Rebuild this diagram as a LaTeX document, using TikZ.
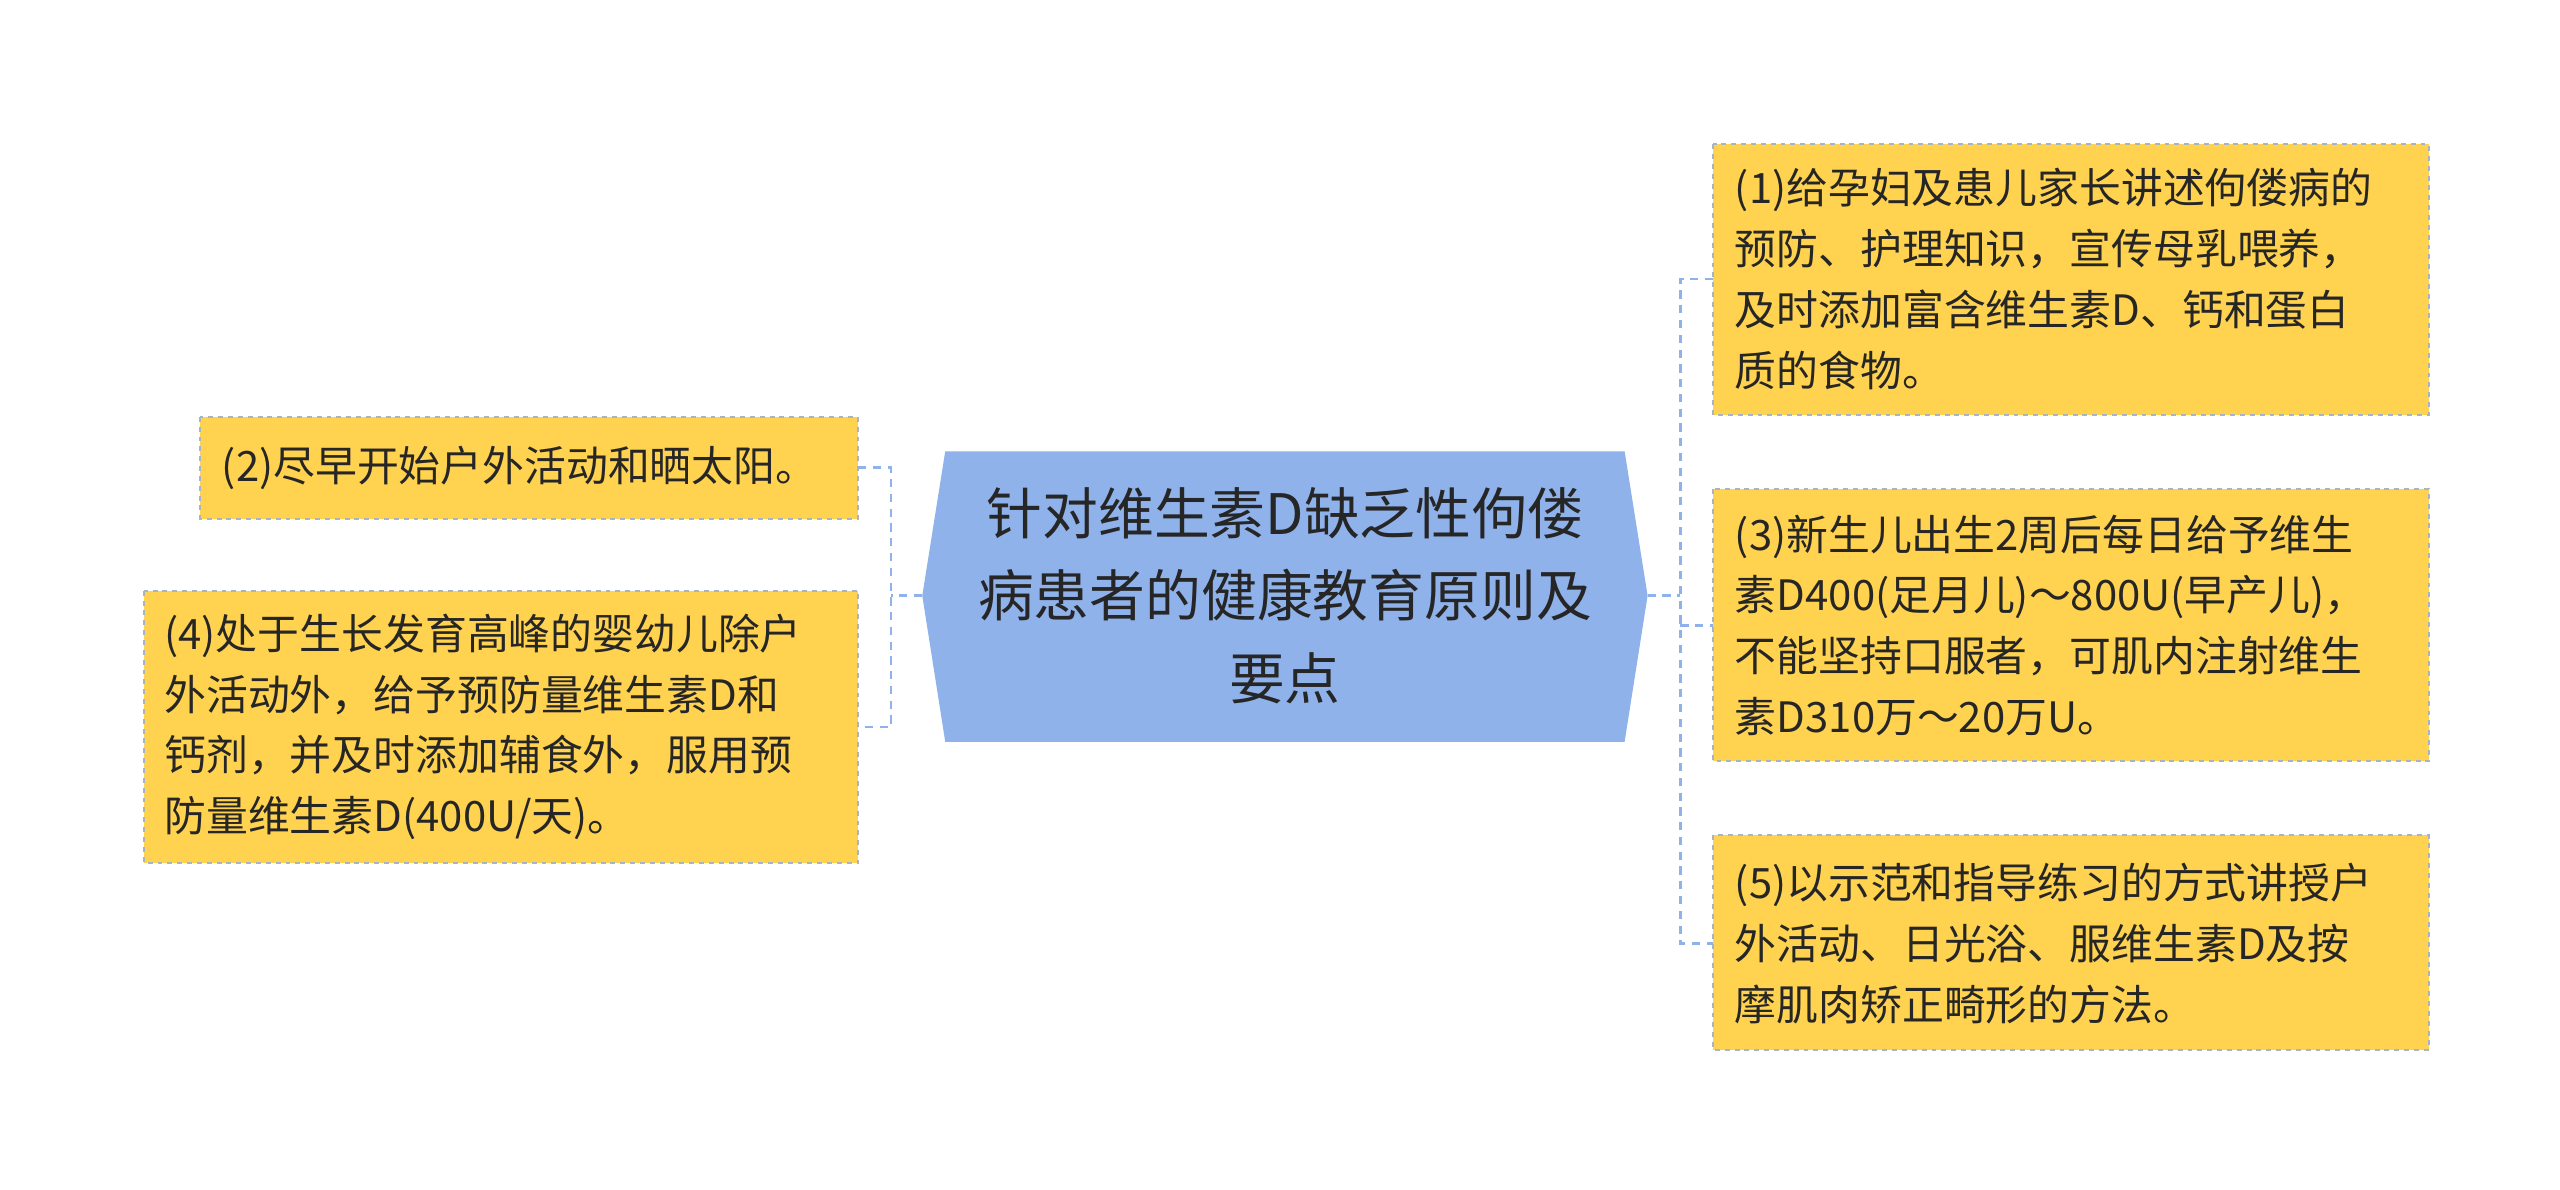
\documentclass[tikz,border=0pt]{standalone}
\usepackage{fontspec}
\setmainfont{Noto Sans CJK SC}
\usetikzlibrary{calc}
\definecolor{hexblue}{HTML}{8FB2EA}
\definecolor{leafy}{HTML}{FFD24F}
\definecolor{lineb}{HTML}{8FB2EA}
\definecolor{bord}{HTML}{A7B4C8}
\tikzset{
 leaf/.style={draw=bord,dashed,line width=1.2pt,fill=leafy},
 ltext/.style={anchor=west,align=left,font=\fontsize{25.5}{37}\selectfont,text=black!85,inner sep=0pt},
 conn/.style={draw=lineb,line width=1.6pt,dash pattern=on 5pt off 4pt},
}
\begin{document}
\begin{tikzpicture}[x=1pt,y=-1pt]
\useasboundingbox (0,0) rectangle (1560,725);
% center
\fill[hexblue] (562,363) -- (576,275) -- (990,275) -- (1004,363) -- (990,452) -- (576,452) -- cycle;
\node[align=center,font=\fontsize{34}{50}\selectfont,text=black!85] (c) at (783,363) {针对维生素D缺乏性佝偻\\病患者的健康教育原则及\\要点};
\coordinate (cl) at (562,363);
\coordinate (cr) at (1004,363);
% leaves
\path[leaf] (122,254) rectangle (523,316);
\node[ltext] (l2) at (135,285) {(2)尽早开始户外活动和晒太阳。};
\path[leaf] (88,360) rectangle (523,526);
\node[ltext] (l4) at (100,443) {(4)处于生长发育高峰的婴幼儿除户\\外活动外，给予预防量维生素D和\\钙剂，并及时添加辅食外，服用预\\防量维生素D(400U/天)。};
\path[leaf] (1044,88) rectangle (1480,253);
\node[ltext] (r1) at (1057,170) {(1)给孕妇及患儿家长讲述佝偻病的\\预防、护理知识，宣传母乳喂养，\\及时添加富含维生素D、钙和蛋白\\质的食物。};
\path[leaf] (1044,298) rectangle (1480,464);
\node[ltext] (r3) at (1057,381) {(3)新生儿出生2周后每日给予维生\\素D400(足月儿)～800U(早产儿)，\\不能坚持口服者，可肌内注射维生\\素D310万～20万U。};
\path[leaf] (1044,509) rectangle (1480,640);
\node[ltext] (r5) at (1057,575) {(5)以示范和指导练习的方式讲授户\\外活动、日光浴、服维生素D及按\\摩肌肉矫正畸形的方法。};
% connectors
\coordinate (l2e) at (523,285);
\coordinate (l4e) at (523,443);
\coordinate (r1e) at (1044,170);
\coordinate (r3e) at (1044,381);
\coordinate (r5e) at (1044,575);
\draw[conn] (cl) -- (543,363);
\draw[conn] (l2e) -- (543,285) -- (543,443) -- (l4e);
\draw[conn] (cr) -- (1024,363);
\draw[conn] (r1e) -- (1024,170) -- (1024,575) -- (r5e);
\draw[conn] (1024,381) -- (r3e);
\end{tikzpicture}
\end{document}
